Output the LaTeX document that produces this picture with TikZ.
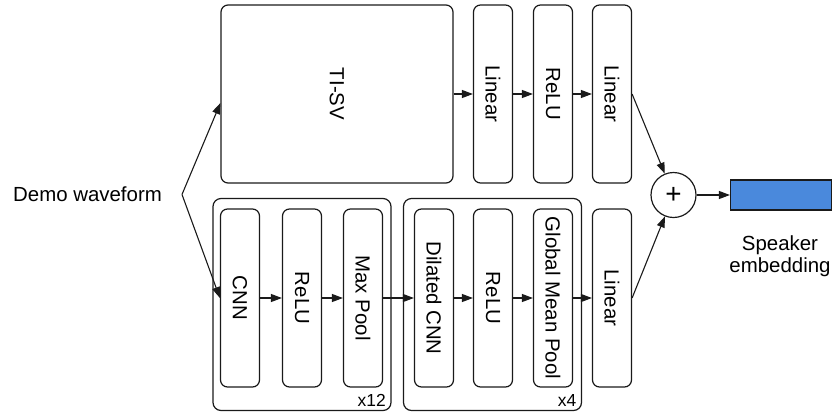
\documentclass[tikz,border=0pt]{standalone}
\usepackage{fontspec}
\setmainfont{Liberation Sans}
\usetikzlibrary{arrows.meta,calc}
\definecolor{embblue}{HTML}{4A89DC}
\definecolor{edge}{HTML}{1A1A1A}

\begin{document}
\begin{tikzpicture}[x=1bp,y=-1bp,font=\fontsize{20.5}{22}\selectfont,
    blk/.style={draw=edge,line width=1.2bp,rounded corners=7bp,minimum width=39bp,minimum height=178bp,inner sep=0pt},
    rep/.style={draw=edge,line width=1.2bp,rounded corners=8bp,minimum width=178bp,minimum height=212bp,inner sep=0pt},
    flow/.style={edge,line width=1.1bp,-{Triangle[length=11bp,width=8bp]}},
    small/.style={font=\fontsize{17.5}{20}\selectfont}]
        \useasboundingbox (0,0) rectangle (836,412);
        \node[rep] (rep1) at (302,304.5) {};
        \node[rep] (rep2) at (492.5,304.5) {};
        \node[small,anchor=base east,inner sep=0pt] (n12) at (386,406.5) {x12};
        \node[small,anchor=base east,inner sep=0pt] (n4) at (576.5,406.5) {x4};
        \node[anchor=base west,inner sep=0pt] (wave) at (13,201.7) {Demo waveform};
        \coordinate (split) at (182,194.5);
        \node[blk,minimum width=232bp] (tisv) at (337,94) {\rotatebox{-90}{TI-SV}};
        \node[blk] (lin1) at (493,94) {\rotatebox{-90}{Linear}};
        \node[blk] (relu1) at (553,94) {\rotatebox{-90}{ReLU}};
        \node[blk] (lin2) at (612,94) {\rotatebox{-90}{Linear}};
        \node[blk] (cnn) at (240,298) {\rotatebox{-90}{CNN}};
        \node[blk] (relu2) at (302,298) {\rotatebox{-90}{ReLU}};
        \node[blk] (pool) at (363,298) {\rotatebox{-90}{Max Pool}};
        \node[blk] (dcnn) at (434,298) {\rotatebox{-90}{Dilated CNN}};
        \node[blk] (relu3) at (493,298) {\rotatebox{-90}{ReLU}};
        \node[blk] (gmp) at (553,298) {\rotatebox{-90}{Global Mean Pool}};
        \node[blk] (lin3) at (612,298) {\rotatebox{-90}{Linear}};
        \node[draw=edge,circle,line width=1.2bp,minimum size=45bp,inner sep=0pt] (plus) at (673.5,195) {\fontsize{28}{28}\selectfont +};
        \node[draw=edge,fill=embblue,line width=1.2bp,minimum width=101bp,minimum height=30bp,inner sep=0pt] (emb) at (781,195) {};
        \node[anchor=north,align=center,inner sep=0pt] (embtxt) at (780,235.5) {Speaker\\embedding};
        \draw[flow] (split) -- ($(tisv.west)+(0,9)$);
        \draw[flow] (split) -- (cnn.west);
        \draw[flow] (tisv) -- (lin1);
        \draw[flow] (lin1) -- (relu1);
        \draw[flow] (relu1) -- (lin2);
        \draw[flow] (cnn) -- (relu2);
        \draw[flow] (relu2) -- (pool);
        \draw[flow] (pool) -- (dcnn);
        \draw[flow] (dcnn) -- (relu3);
        \draw[flow] (relu3) -- (gmp);
        \draw[flow] (gmp) -- (lin3);
        \draw[flow] (lin2.east) -- (plus);
        \draw[flow] (lin3.east) -- (plus);
        \draw[flow] (plus) -- (emb);
      \end{tikzpicture}
\end{document}
